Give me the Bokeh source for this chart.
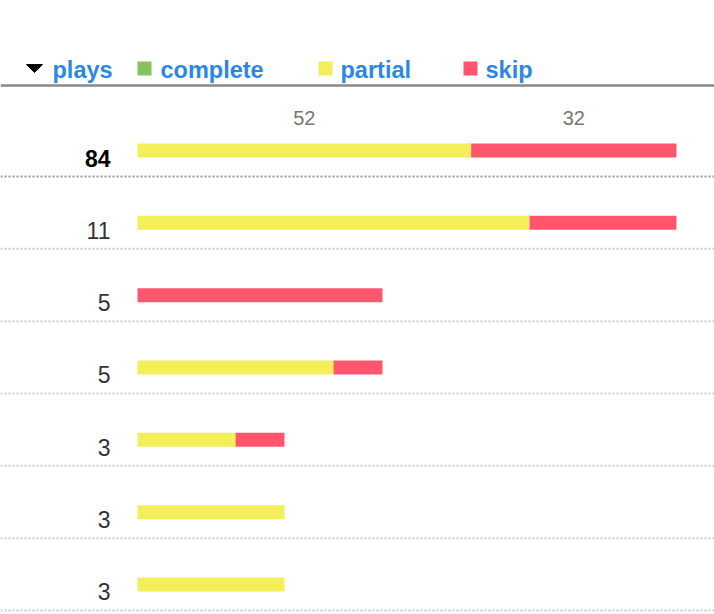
from bokeh.plotting import figure
from bokeh.models import Range1d, Span
from bokeh.core.properties import value
from bokeh.embed import file_html
from bokeh.resources import INLINE

# ---- data ----
plays = [84, 11, 5, 5, 3, 3, 3]
complete = [0, 0, 0, 0, 0, 0, 0]
partial = [52, 8, 0, 4, 2, 3, 3]
skip = [32, 3, 5, 1, 1, 0, 0]
series_names = ["complete", "partial", "skip"]
series_colors = ["#86c060", "#f2ef5b", "#ff566e"]

W, H = 714, 614
ROW0, STEP = 150.0, 72.33
X0, XW = 137.0, 539.0
TXT = -7.5  # text baseline correction (pixels)


def px(p):
    return (p - X0) / XW


def py(p):
    return (p - ROW0) / STEP


p = figure(width=W, height=H, output_backend="svg", toolbar_location=None,
           x_range=Range1d(px(0), px(W)), y_range=Range1d(py(H), py(0)),
           min_border=0, min_border_left=0, min_border_right=0,
           min_border_top=0, min_border_bottom=0)
p.axis.visible = False
p.grid.visible = False
p.outline_line_color = None
p.background_fill_color = "white"
p.border_fill_color = "white"

n = len(plays)
rows = list(range(n))
# first row is scaled on its own total, the rest on the largest of the rest
denom = [plays[0]] + [max(plays[1:])] * (n - 1)

bar_h = 14 / STEP
cum = [0.0] * n
series = [complete, partial, skip]
seg_mid = {}
for name, vals, col in zip(series_names, series, series_colors):
    left = [cum[i] for i in rows]
    right = [cum[i] + vals[i] / denom[i] for i in rows]
    p.hbar(y=rows, left=left, right=right, height=bar_h, fill_color=col,
           line_color=None)
    seg_mid[name] = ((left[0] + right[0]) / 2, vals[0])
    cum = right

# value labels above first row
lab_x, lab_t = [], []
for name in series_names:
    mx, v = seg_mid[name]
    if v > 0:
        lab_x.append(mx)
        lab_t.append(str(v))
p.text(x=lab_x, y=[0 + (-25 + TXT) / STEP] * len(lab_x), text=lab_t,
       text_align="center", text_baseline="alphabetic",
       text_font=value("Liberation Sans"), text_font_size="20px",
       text_color="#777777")

# row plays labels
p.text(x=[px(110)], y=[0 + (15 + TXT) / STEP], text=[str(plays[0])],
       text_align="right", text_baseline="alphabetic",
       text_font=value("Liberation Sans"), text_font_size="23px",
       text_font_style="bold", text_color="#000000")
p.text(x=[px(110)] * (n - 1), y=[i + (15 + TXT) / STEP for i in rows[1:]],
       text=[str(v) for v in plays[1:]],
       text_align="right", text_baseline="alphabetic",
       text_font=value("Liberation Sans"), text_font_size="23px",
       text_color="#333333")

# dotted separators
for i in rows:
    p.add_layout(Span(location=i + 26 / STEP, dimension="width",
                      line_color="#999999" if i == 0 else "#cccccc",
                      line_width=2, line_dash="2 2"))

# header rule
p.add_layout(Span(location=py(85), dimension="width",
                  line_color="#888888", line_width=2.5))

# header: triangle + "plays"
p.patch(x=[px(26), px(42), px(34)], y=[py(64), py(64), py(72)],
        fill_color="black", line_color="black", line_width=1)
blue = "#2a88e3"
p.text(x=[px(52)], y=[py(77 + TXT)], text=["plays"], text_align="left",
       text_baseline="alphabetic", text_font=value("Liberation Sans"),
       text_font_size="23.5px", text_font_style="bold", text_color=blue)

# legend
leg_sq_x = [137, 318, 463]
leg_tx_x = [160, 340, 485]
p.rect(x=[px(v + 7) for v in leg_sq_x], y=[py(68)] * 3, width=14, height=14,
       width_units="screen", height_units="screen",
       fill_color=series_colors, line_color=None)
p.text(x=[px(v) for v in leg_tx_x], y=[py(77 + TXT)] * 3, text=series_names,
       text_align="left", text_baseline="alphabetic",
       text_font=value("Liberation Sans"), text_font_size="23.5px",
       text_font_style="bold", text_color=blue)

open("out.html", "w").write(file_html(p, INLINE))
